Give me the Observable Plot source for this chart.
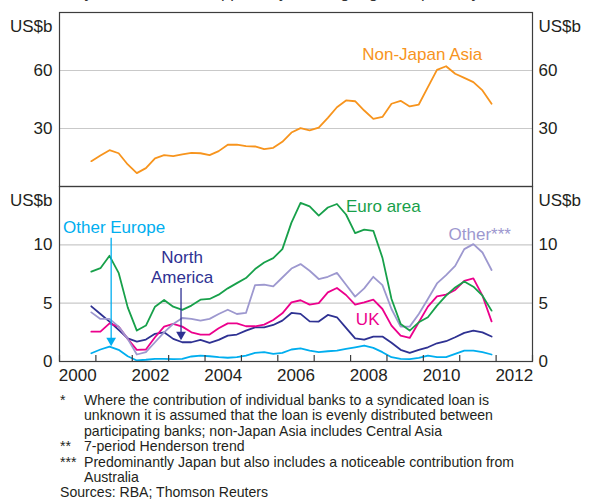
<!DOCTYPE html>
<html><head><meta charset="utf-8">
<script src="https://cdn.jsdelivr.net/npm/d3@7"></script>
<script src="https://cdn.jsdelivr.net/npm/@observablehq/plot@0.6"></script>
<style>
body{margin:0;background:#fff;font-family:"Liberation Sans",Arial,sans-serif;}
#wrap{position:relative;width:597px;height:502px;overflow:hidden;}
#title{position:absolute;left:0;width:566px;text-align:center;top:-16px;font-size:16.5px;line-height:16px;color:#333;white-space:nowrap;}
#top{position:absolute;left:0;top:0;}
#bottom{position:absolute;left:0;top:185px;}
#notes{position:absolute;left:0;top:393px;font-size:14.1px;line-height:15.4px;color:#231f20;}
.row{display:flex;}
.m{flex:none;width:24px;padding-left:60px;}
.t{flex:none;width:480px;}
.src{padding-left:60px;}
svg{display:block}
</style>
</head><body>
<div id="wrap">
<div id="title">Syndicated loans supplied by banking region*, quarterly**</div>
<div id="top"></div>
<div id="bottom"></div>
<div id="notes">
<div class="row"><div class="m">*</div><div class="t">Where the contribution of individual banks to a syndicated loan is<br>unknown it is assumed that the loan is evenly distributed between<br>participating banks; non-Japan Asia includes Central Asia</div></div>
<div class="row"><div class="m">**</div><div class="t">7-period Henderson trend</div></div>
<div class="row"><div class="m">***</div><div class="t">Predominantly Japan but also includes a noticeable contribution from<br>Australia</div></div>
<div class="src">Sources: RBA; Thomson Reuters</div>
</div>
</div>
<script>
// ---- data ----
const quarters = [
 "2000Q4",
 "2001Q1","2001Q2","2001Q3","2001Q4","2002Q1","2002Q2","2002Q3","2002Q4",
 "2003Q1","2003Q2","2003Q3","2003Q4","2004Q1","2004Q2","2004Q3","2004Q4",
 "2005Q1","2005Q2","2005Q3","2005Q4","2006Q1","2006Q2","2006Q3","2006Q4",
 "2007Q1","2007Q2","2007Q3","2007Q4","2008Q1","2008Q2","2008Q3","2008Q4",
 "2009Q1","2009Q2","2009Q3","2009Q4","2010Q1","2010Q2","2010Q3","2010Q4",
 "2011Q1","2011Q2","2011Q3","2011Q4"];
const nonJapanAsia = [13.1,16.0,18.8,17.2,11.4,6.9,9.5,14.6,16.2,15.7,16.6,17.4,17.2,16.2,18.3,21.6,21.7,20.9,20.7,19.3,20.0,23.1,27.9,30.2,29.0,30.5,35.5,41.0,44.5,44.1,39.3,35.0,36.0,42.8,44.3,41.4,42.4,51.4,60.3,62.2,58.3,56.2,54.0,49.7,42.8];
const euroArea = [7.7,8.0,9.06,7.6,4.64,2.65,3.08,4.7,5.27,4.7,4.42,4.79,5.3,5.36,5.73,6.27,6.72,7.15,7.92,8.49,8.86,9.63,11.9,13.6,13.3,12.5,13.2,13.5,12.6,11.0,11.3,11.2,8.9,5.36,3.22,2.65,3.36,3.79,4.79,5.64,6.35,6.86,6.41,5.64,4.36];
const otherJapan = [4.21,3.65,3.65,2.99,1.94,0.6,0.8,1.65,2.5,3.22,3.73,3.65,3.5,3.65,4.07,4.44,4.07,4.16,6.55,6.58,6.44,7.2,7.97,8.35,7.78,7.07,7.26,7.6,6.58,5.56,6.27,7.26,6.55,4.5,2.99,2.99,4.07,5.36,6.69,7.41,8.2,9.63,10.06,9.34,7.84];
const uk = [2.56,2.56,3.27,2.99,1.94,1.0,1.03,2.08,2.99,3.22,2.99,2.5,2.31,2.31,2.85,3.27,3.27,3.02,3.02,3.16,3.56,4.13,5.07,5.25,4.87,5.01,5.92,6.3,5.7,4.87,5.07,5.3,4.5,3.08,2.22,2.02,3.36,4.7,5.58,5.73,6.13,6.92,7.12,5.64,3.44];
const northAmerica = [4.73,4.07,3.42,2.71,1.99,1.71,1.88,2.37,2.5,1.94,1.65,1.65,1.85,1.6,1.85,2.22,2.31,2.65,2.93,2.93,3.13,3.5,4.16,4.08,3.44,3.42,3.99,3.79,2.88,1.99,1.88,2.14,2.14,1.6,1.0,0.74,1.0,1.22,1.56,1.74,2.08,2.45,2.65,2.5,2.14];
const otherEurope = [0.71,1.03,1.28,1.0,0.45,0.09,0.15,0.23,0.23,0.2,0.23,0.43,0.51,0.45,0.37,0.32,0.37,0.51,0.74,0.8,0.65,0.74,1.03,1.12,0.94,0.8,0.88,0.94,1.08,1.22,1.37,1.17,0.8,0.37,0.23,0.2,0.32,0.51,0.37,0.37,0.65,0.94,0.94,0.8,0.6];

const bottomSeries = ["Euro area","Other***","UK","North America","Other Europe"];
const bottomValues = [euroArea, otherJapan, uk, northAmerica, otherEurope];
const bottomColors = ["#17a04a","#9d98cf","#ec008c","#2e3192","#00aeef"];
const asiaColor = "#f7941d";

const yearTicks = [2000,2001,2002,2003,2004,2005,2006,2007,2008,2009,2010,2011,2012,2013];
const yearLabels = [2000,2002,2004,2006,2008,2010,2012];
const topTicks = [30,60];
const bottomTicks = [0,5,10];
const unitLabel = "US$b";

// label annotations (data coordinates)
const topLabel = [{text:"Non-Japan Asia", x:2009.97, y:68.3}];
const bottomLabelText = ["Euro area","Other***","UK","North\nAmerica","Other Europe"];
const bottomLabelX = [2008.9, 2011.55, 2008.47, 2003.37, 2001.5];
const bottomLabelY = [13.4, 11.0, 3.7, 8.1, 11.6];
const arrowSeries = ["Other Europe","North America"];
const arrowX = [2001.42, 2003.34];
const arrowFrom = [10.6, 6.3];
const arrowTo = [1.54, 2.05];

// ---- build ----
const qx = q => +q.slice(0,4) + (+q.slice(5)-1)*0.25 + 0.125;
const asiaData = quarters.map((q,i)=>({x:qx(q), v:nonJapanAsia[i]}));
const font = '"Liberation Sans", Arial, sans-serif';
const ink = "#231f20";
const frameColor = "#3d3d3d";
const gridColor = "#c9c9c9";
const W = 597, ML = 59, MR = 65;

const topPlot = Plot.plot({
  width: W, height: 187, marginLeft: ML, marginRight: MR, marginTop: 12, marginBottom: 1,
  style: {fontFamily: font, fontSize: "17px", color: ink, background: "transparent", overflow: "visible"},
  x: {domain: [2000, 2013], axis: null},
  y: {domain: [0, 90], axis: null},
  marks: [
    Plot.gridY(topTicks, {stroke: gridColor, strokeOpacity: 1, strokeWidth: 1.2}),
    Plot.axisY(topTicks, {anchor: "left", tickSize: 0, tickPadding: 7, fill: ink, label: null}),
    Plot.axisY(topTicks, {anchor: "right", tickSize: 0, tickPadding: 6, fill: ink, label: null}),
    Plot.text([unitLabel], {frameAnchor: "top-left", dx: -7, dy: 7, textAnchor: "end", fill: ink}),
    Plot.text([unitLabel], {frameAnchor: "top-right", dx: 6, dy: 7, textAnchor: "start", fill: ink}),
    Plot.line(asiaData, {x: "x", y: "v", stroke: asiaColor, strokeWidth: 1.8}),
    Plot.text(topLabel, {x: "x", y: "y", text: "text", fill: asiaColor}),
    Plot.frame({stroke: frameColor, strokeWidth: 1.2})
  ]
});
document.getElementById("top").append(topPlot);

const lineMarks = bottomSeries.map((name, k) =>
  Plot.line(quarters.map((q,i)=>({x: qx(q), v: bottomValues[k][i]})), {x: "x", y: "v", stroke: bottomColors[k], strokeWidth: 1.8})
).reverse();
const labelMarks = bottomSeries.map((name, k) =>
  Plot.text([{x: bottomLabelX[k], y: bottomLabelY[k], t: bottomLabelText[k]}], {x: "x", y: "y", text: "t", fill: bottomColors[k], lineHeight: 1.18})
);
const arrowMarks = arrowSeries.flatMap((name, k) => {
  const c = bottomColors[bottomSeries.indexOf(name)];
  const d = [{x: arrowX[k], y1: arrowFrom[k], y2: arrowTo[k]}];
  return [
    Plot.link(d, {x1: "x", x2: "x", y1: "y1", y2: "y2", stroke: c, strokeWidth: 1.3}),
    Plot.dot(d, {x: "x", y: "y2", symbol: "triangle", r: 3.6, rotate: 180, fill: c, stroke: "none", dy: -3})
  ];
});

const bottomPlot = Plot.plot({
  width: W, height: 211, marginLeft: ML, marginRight: MR, marginTop: 1, marginBottom: 35,
  style: {fontFamily: font, fontSize: "17px", color: ink, background: "transparent", overflow: "visible"},
  x: {domain: [2000, 2013], axis: null},
  y: {domain: [0, 15], axis: null},
  marks: [
    Plot.gridY([5, 10], {stroke: gridColor, strokeOpacity: 1, strokeWidth: 1.2}),
    Plot.axisY(bottomTicks, {anchor: "left", tickSize: 0, tickPadding: 7, fill: ink, label: null}),
    Plot.axisY(bottomTicks, {anchor: "right", tickSize: 0, tickPadding: 6, fill: ink, label: null}),
    Plot.text([unitLabel], {frameAnchor: "top-left", dx: -7, dy: 7, textAnchor: "end", fill: ink}),
    Plot.text([unitLabel], {frameAnchor: "top-right", dx: 6, dy: 7, textAnchor: "start", fill: ink}),
    ...lineMarks,
    ...arrowMarks,
    ...labelMarks,
    Plot.axisX(yearTicks, {anchor: "bottom", tickSize: -6, tickFormat: () => "", label: null, stroke: frameColor, strokeWidth: 1.2}),
    Plot.text(yearLabels, {x: d => d + 0.5, frameAnchor: "bottom", dy: 19, text: d => String(d), fill: ink}),
    Plot.frame({stroke: frameColor, strokeWidth: 1.2})
  ]
});
document.getElementById("bottom").append(bottomPlot);
</script>
</body></html>
